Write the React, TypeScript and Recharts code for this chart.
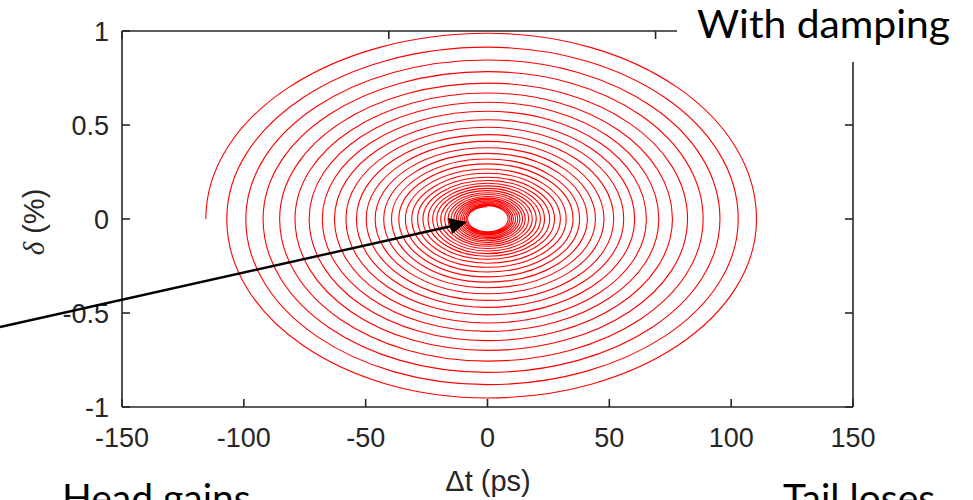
import { Line, LineChart, XAxis, YAxis } from 'recharts'

// Turning points of the damped synchrotron spiral,
// outer turn first. Each revolution: left crossing -> top -> right crossing -> bottom.
const leftCrossings = [
  115.6, 107.0, 99.2, 92.1, 85.3, 79.0, 73.2, 67.8, 62.8, 58.1, 53.8, 49.8, 46.1, 42.6, 39.4,
  36.4, 33.7, 31.1, 28.7, 26.5, 24.4, 22.5, 20.8, 19.2, 17.6, 16.2, 14.9, 13.8, 12.8, 11.9, 11.0,
  10.2, 9.5, 8.8, 8.2
]
const topPeaks = [
  0.988, 0.914, 0.846, 0.784, 0.723, 0.67, 0.621, 0.573, 0.528, 0.488, 0.449, 0.413, 0.379,
  0.349, 0.319, 0.293, 0.266, 0.243, 0.222, 0.205, 0.19, 0.176, 0.163, 0.151, 0.14, 0.13, 0.12,
  0.111, 0.103, 0.096, 0.089, 0.082, 0.076, 0.071, 0.066
]
const rightCrossings = [
  110.4, 102.9, 95.4, 88.5, 82.1, 75.9, 70.3, 65.2, 60.4, 55.9, 51.8, 47.8, 44.3, 41.0, 37.8,
  35.1, 32.3, 29.9, 27.5, 25.5, 23.4, 21.7, 20.0, 18.4, 16.9, 15.5, 14.4, 13.3, 12.4, 11.5, 10.6,
  9.9, 9.2, 8.5
]
const bottomPeaks = [
  0.952, 0.881, 0.816, 0.756, 0.699, 0.647, 0.598, 0.553, 0.51, 0.47, 0.433, 0.398, 0.366,
  0.336, 0.308, 0.282, 0.257, 0.235, 0.214, 0.198, 0.184, 0.17, 0.157, 0.145, 0.135, 0.125,
  0.116, 0.107, 0.099, 0.092, 0.085, 0.079, 0.073, 0.068
]

const xTicks = [-150, -100, -50, 0, 50, 100, 150]
const yTicks = [-1, -0.5, 0, 0.5, 1]

const spiral = leftCrossings.flatMap((left, i) => {
  const pts = [{ x: -left, y: 0 }]
  if (topPeaks[i] !== undefined) pts.push({ x: 0, y: topPeaks[i] })
  if (rightCrossings[i] !== undefined) pts.push({ x: rightCrossings[i], y: 0 })
  if (bottomPeaks[i] !== undefined) pts.push({ x: 0, y: -bottomPeaks[i] })
  return pts
})

// Curve for recharts: joins the turning points with quarter-ellipse beziers.
// Points alternate crossing (vertical tangent) / peak (horizontal tangent).
const K = 0.5523
const quarterArcs = (context: any) => {
  let pts: number[][] = []
  return {
    areaStart() {},
    areaEnd() {},
    lineStart() {
      pts = []
    },
    point(x: number, y: number) {
      pts.push([+x, +y])
    },
    lineEnd() {
      if (!pts.length) return
      context.moveTo(pts[0][0], pts[0][1])
      for (let i = 1; i < pts.length; i++) {
        const [x0, y0] = pts[i - 1]
        const [x1, y1] = pts[i]
        if ((i - 1) % 2 === 0) {
          context.bezierCurveTo(x0, y0 + K * (y1 - y0), x1 + K * (x0 - x1), y1, x1, y1)
        } else {
          context.bezierCurveTo(x0 + K * (x1 - x0), y0, x1, y1 + K * (y0 - y1), x1, y1)
        }
      }
    }
  }
}

const AXIS = '#262626'
const SANS = '"Liberation Sans", Arial, sans-serif'
const tickFont = { fontFamily: SANS, fontSize: 27, fill: AXIS }
const noteFont = 'Lato, "Open Sans", sans-serif'
const blank = () => ''

export default function App() {
  return (
    <div style={{ position: 'fixed', left: 0, top: 0, width: 973, height: 500, background: '#fff' }}>
      <LineChart
        width={973}
        height={500}
        data={spiral}
        margin={{ top: 30, right: 119, bottom: 33, left: 0 }}
      >
        <XAxis
          dataKey="x"
          type="number"
          domain={[-150, 150]}
          ticks={xTicks}
          height={60}
          tickSize={-8}
          tickMargin={29}
          stroke={AXIS}
          strokeWidth={1.6}
          tick={tickFont}
          allowDataOverflow
        />
        {/* box: top and right axes with inward ticks, no labels */}
        <XAxis
          xAxisId="top"
          orientation="top"
          type="number"
          domain={[-150, 150]}
          ticks={xTicks}
          height={1}
          tickSize={-8}
          tickFormatter={blank}
          stroke={AXIS}
          strokeWidth={1.6}
          allowDataOverflow
        />
        <YAxis
          type="number"
          domain={[-1, 1]}
          ticks={yTicks}
          width={122}
          tickSize={-8}
          tickMargin={21}
          stroke={AXIS}
          strokeWidth={1.6}
          tick={tickFont}
          allowDataOverflow
        />
        <YAxis
          yAxisId="right"
          orientation="right"
          type="number"
          domain={[-1, 1]}
          ticks={yTicks}
          width={1}
          tickSize={-8}
          tickFormatter={blank}
          stroke={AXIS}
          strokeWidth={1.6}
          allowDataOverflow
        />
        <Line
          dataKey="y"
          type={quarterArcs as any}
          stroke="#ff0000"
          strokeWidth={1.1}
          dot={false}
          activeDot={false}
          isAnimationActive={false}
        />
      </LineChart>

      {/* slide annotations laid over the figure */}
      <svg
        width={973}
        height={500}
        style={{ position: 'absolute', left: 0, top: 0, pointerEvents: 'none' }}
      >
        <rect x={677} y={0} width={296} height={62} fill="#fff" />
        <text
          x={697}
          y={38}
          fontFamily={noteFont}
          fontSize={39}
          fill="#000"
          textLength={253}
          lengthAdjust="spacingAndGlyphs"
        >
          With damping
        </text>
        <line x1={0} y1={327} x2={452} y2={226} stroke="#000" strokeWidth={2.4} />
        <polygon points="467,222 448,218 452,234" fill="#000" />
        <text x={62} y={512} fontFamily={noteFont} fontSize={39} fill="#000">
          Head gains
        </text>
        <text x={783} y={512} fontFamily={noteFont} fontSize={39} fill="#000">
          Tail loses
        </text>
        <text
          transform="translate(44,222) rotate(-90)"
          textAnchor="middle"
          fontFamily={SANS}
          fontSize={29}
          fill={AXIS}
        >
          <tspan fontFamily='"Liberation Serif", serif' fontStyle="italic">δ</tspan> (%)
        </text>
        <text x={488} y={491} textAnchor="middle" fontFamily={SANS} fontSize={29} fill={AXIS}>
          Δt (ps)
        </text>
      </svg>
    </div>
  )
}
